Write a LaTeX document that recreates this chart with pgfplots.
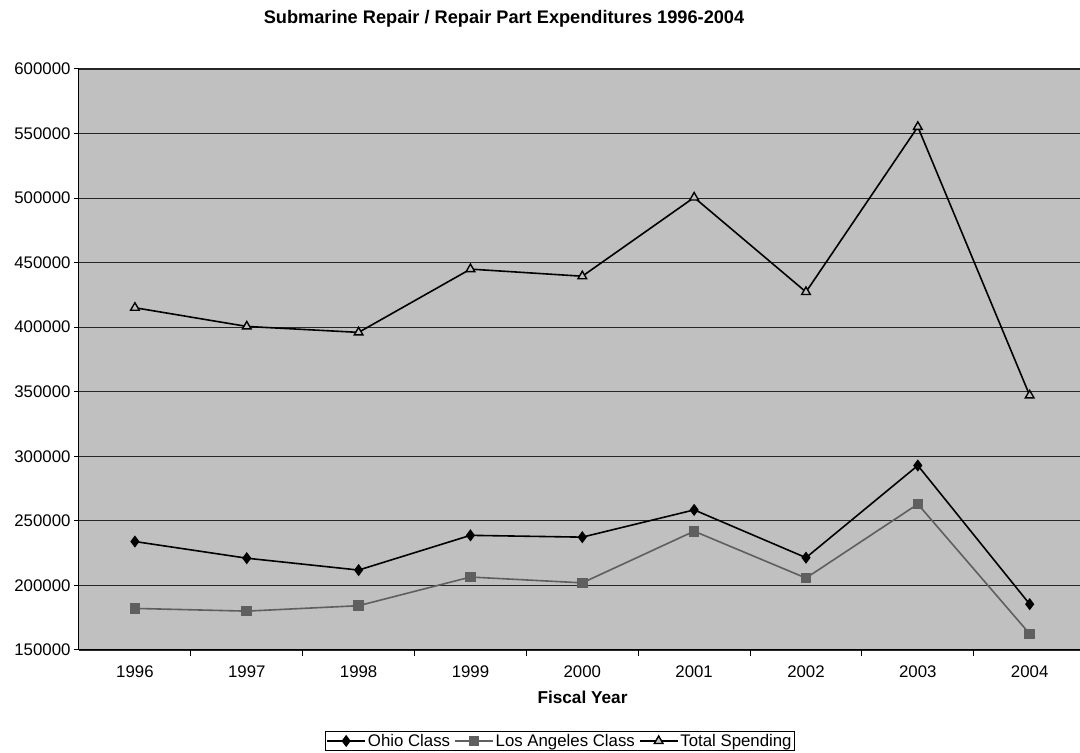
\documentclass[border=0pt]{standalone}
\usepackage{pgfplots}
\pgfplotsset{compat=1.18}
\usepackage{fontspec}
\setmainfont{Liberation Sans}
\definecolor{bg}{HTML}{C0C0C0}
\definecolor{la}{HTML}{5F5F5F}
\begin{document}
\begin{tikzpicture}
\begin{axis}[
  scale only axis, width=1001pt, height=581pt,
  xmin=-0.5, xmax=8.45, ymin=150000, ymax=600000,
  axis background/.style={fill=bg},
  axis x line*=bottom, axis y line*=left,
  axis line style={black, line width=1pt},
  xtick={0,1,2,3,4,5,6,7,8},
  xticklabels={1996,1997,1998,1999,2000,2001,2002,2003,2004},
  major x tick style={draw=none},
  minor xtick={0.5,1.5,2.5,3.5,4.5,5.5,6.5,7.5},
  minor x tick style={black, line width=1pt},
  ytick={150000,200000,...,600000},
  major y tick style={black, line width=1pt},
  tick align=outside, major tick length=5pt, minor tick length=6pt,
  scaled y ticks=false,
  yticklabel style={/pgf/number format/.cd, fixed, 1000 sep={}, assume math mode=true},
  tick label style={font=\fontsize{16.8}{19}\selectfont, black},
  xticklabel style={yshift=-7pt},
  ymajorgrids, major grid style={black!85, line width=1.2pt},
  clip=false,
  legend columns=3,
  legend style={at={(rel axis cs:0.4805,-0.1566)}, anchor=center, draw=black, fill=white,
    font=\fontsize{16.8}{19}\selectfont, inner sep=1pt, line width=0.8pt,
    /tikz/every odd column/.append style={column sep=0pt},
    /tikz/every even column/.append style={column sep=2pt}},
  legend image code/.code={\draw[mark repeat=2,mark phase=2] plot coordinates {(0pt,0pt)(19pt,0pt)(38pt,0pt)};},
]
\coordinate (sw) at (rel axis cs:0,0);
\coordinate (ne) at (rel axis cs:1,1);
\addplot[black, line width=1.6pt, mark=diamond*, mark size=4.8pt, mark options={fill=black, solid}]
  coordinates {(0,234000)(1,221100)(2,211900)(3,238800)(4,237400)(5,258500)(6,221500)(7,292900)(8,185500)};
\addlegendentry{Ohio Class}
\addplot[la, line width=1.6pt, mark=square*, mark size=4.5pt, mark options={fill=la, solid}]
  coordinates {(0,182200)(1,180100)(2,184300)(3,206500)(4,202000)(5,242000)(6,205700)(7,263000)(8,162500)};
\addlegendentry{Los Angeles Class}
\addplot[black, line width=1.6pt, mark=triangle*, mark size=5pt, mark options={fill=bg, solid, line width=1.4pt}]
  coordinates {(0,415100)(1,400600)(2,396000)(3,445000)(4,439500)(5,500500)(6,427300)(7,555200)(8,347200)};
\addlegendentry{Total Spending}
\node[font=\bfseries\fontsize{18.2}{21}\selectfont] at (rel axis cs:0.4246,1.087) {Submarine Repair / Repair Part Expenditures 1996-2004};
\node[font=\bfseries\fontsize{17.2}{20}\selectfont] at (rel axis cs:0.503,-0.081) {Fiscal Year};
\end{axis}
\pgfresetboundingbox
\path ([shift={(-79pt,-103pt)}]sw) rectangle ([shift={(0pt,69pt)}]ne);
\end{tikzpicture}
\end{document}
